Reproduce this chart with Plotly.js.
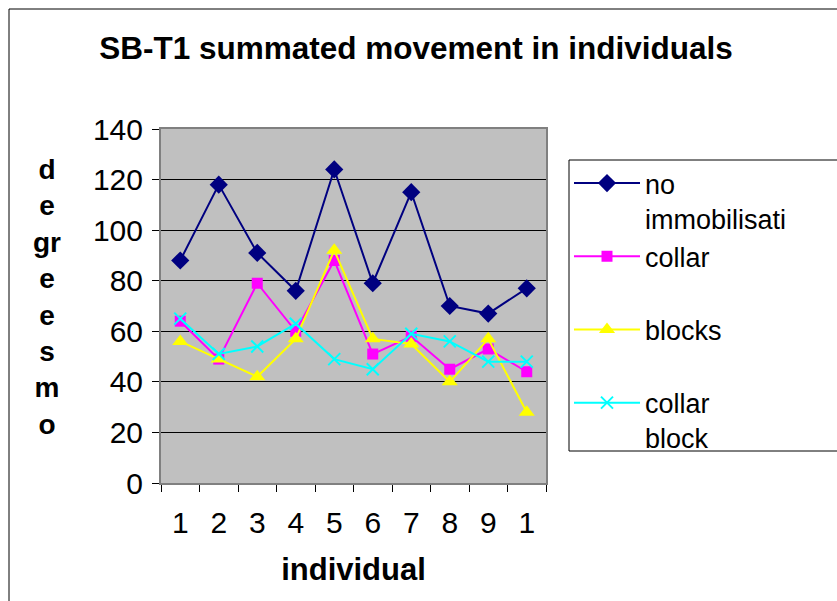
<!DOCTYPE html>
<html><head><meta charset="utf-8">
<script src="https://cdn.plot.ly/plotly-3.0.1.min.js"></script>
<style>html,body{margin:0;padding:0;background:#fff;overflow:hidden;} #chart{width:837px;height:601px;}</style>
</head><body><div id="chart"></div>
<script>
// ---- data ----
const individuals = [1, 2, 3, 4, 5, 6, 7, 8, 9, 10];
const tickLabels = ['1', '2', '3', '4', '5', '6', '7', '8', '9', '1'];
const noImmobilisation = [88, 118, 91, 76, 124, 79, 115, 70, 67, 77];
const collar = [64, 49, 79, 60, 88, 51, 58, 45, 53, 44];
const blocks = [56, 49, 42, 57, 92, 57, 55, 40, 57, 28];
const collarBlock = [65, 51, 54, 63, 49, 45, 59, 56, 48, 48];
const seriesNames = ['no<br>immobilisati', 'collar<br>&nbsp;', 'blocks<br>&nbsp;', 'collar<br>block'];
const yTitleLines = ['d', 'e', 'gr', 'e', 'e', 's', 'm', 'o'];
const chartTitle = 'SB-T1 summated movement in individuals';
const xTitle = 'individual';

// ---- layout helpers (pixel -> paper) ----
const W = 837, H = 601, L = 161, R = 546, T = 129, B = 483;
const px = x => (x - L) / (R - L);
const py = y => (B - y) / (B - T);
const FONT = 'Arial, "Liberation Sans", sans-serif';

function series(y, name, color, symbol, size, extra) {
  return Object.assign({
    x: individuals, y: y, name: name, type: 'scatter', mode: 'lines+markers',
    line: {color: color, width: 2},
    marker: {color: color, symbol: symbol, size: size, line: {width: 0}},
    legendgroup: name
  }, extra || {});
}

const data = [
  series(noImmobilisation, seriesNames[0], '#000080', 'diamond', 14),
  series(collar, seriesNames[1], '#FF00FF', 'square', 11),
  series(blocks, seriesNames[2], '#FFFF00', 'triangle-up', 14),
  series(collarBlock, seriesNames[3], '#00FFFF', 'x-thin', 12,
    {marker: {color: '#00FFFF', symbol: 'x-thin', size: 12, line: {color: '#00FFFF', width: 2}}})
];

const layout = {
  width: W, height: H,
  margin: {l: L, r: W - R, t: T, b: H - B, pad: 0},
  paper_bgcolor: '#FFFFFF',
  plot_bgcolor: '#C0C0C0',
  font: {family: FONT, color: '#000', size: 30},
  title: {text: '<b>' + chartTitle + '</b>', font: {family: FONT, size: 31.5, color: '#000'},
          xref: 'container', x: 416 / W, xanchor: 'center', yref: 'container', y: 1 - 48 / H, yanchor: 'middle'},
  xaxis: {
    range: [0.5, 10.5], tickmode: 'array', tickvals: individuals, ticktext: tickLabels,
    ticks: '', tickfont: {family: FONT, size: 30, color: '#000'}, ticklabelstandoff: 12,
    showgrid: false, zeroline: false, showline: true, linecolor: '#808080', linewidth: 2, mirror: true,
    minor: {tick0: 0.5, dtick: 1, ticks: 'outside', ticklen: 7, tickcolor: '#000', tickwidth: 1, showgrid: false},
    title: {text: '<b>' + xTitle + '</b>', font: {family: FONT, size: 31, color: '#000'}, standoff: 20},
    fixedrange: true
  },
  yaxis: {
    range: [0, 140], dtick: 20, tick0: 0, ticks: 'outside', ticklen: 7, tickcolor: '#000', tickwidth: 1,
    tickfont: {family: FONT, size: 30, color: '#000'}, ticklabelstandoff: 3,
    showgrid: true, gridcolor: '#000', gridwidth: 1, zeroline: false,
    showline: true, linecolor: '#808080', linewidth: 2, mirror: true, fixedrange: true
  },
  showlegend: true,
  legend: {
    x: px(569), y: py(159), xanchor: 'left', yanchor: 'top',
    bgcolor: 'rgba(0,0,0,0)', borderwidth: 0,
    font: {family: FONT, size: 27, color: '#000'}, valign: 'top',
    itemwidth: 66, tracegroupgap: 0, traceorder: 'normal'
  },
  annotations: [{
    text: '<b>' + yTitleLines.join('<br>') + '</b>', xref: 'paper', yref: 'paper',
    x: px(47), y: py(152), xanchor: 'center', yanchor: 'top', showarrow: false, align: 'center',
    font: {family: FONT, size: 28, color: '#000'}
  }],
  shapes: [
    {type: 'rect', xref: 'paper', yref: 'paper', x0: px(569), x1: px(W + 10), y0: py(160), y1: py(451),
     fillcolor: '#FFFFFF', line: {color: '#000', width: 1}, layer: 'above'},
    {type: 'line', xref: 'paper', yref: 'paper', x0: px(9), x1: px(9), y0: py(9), y1: py(H + 5), line: {color: '#000', width: 1}},
    {type: 'line', xref: 'paper', yref: 'paper', x0: px(9), x1: px(W + 5), y0: py(9), y1: py(9), line: {color: '#000', width: 1}}
  ]
};

Plotly.newPlot('chart', data, layout, {staticPlot: true, displayModeBar: false});
</script>
</body></html>
